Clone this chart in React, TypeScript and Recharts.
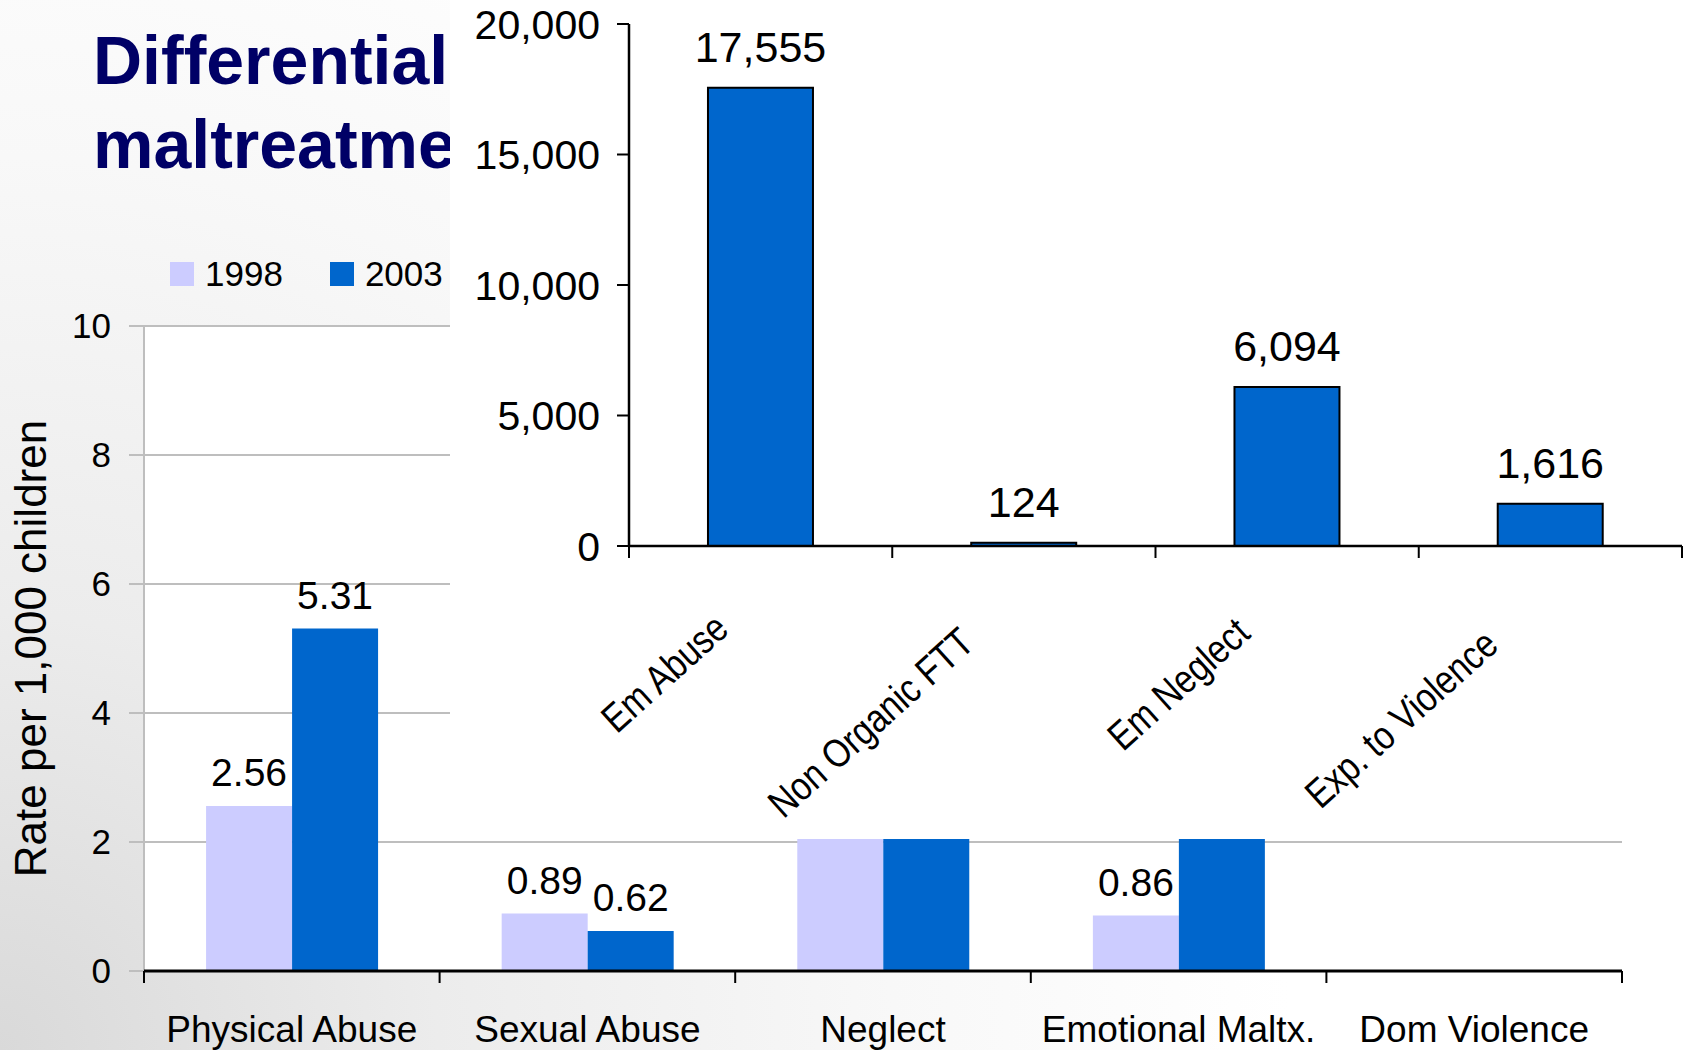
import React from 'react';
import { BarChart, Bar, XAxis, YAxis, CartesianGrid, LabelList } from 'recharts';

const FONT = '"Liberation Sans", Arial, Helvetica, sans-serif';

// background chart: rate per 1,000 children
const categories = ['Physical Abuse', 'Sexual Abuse', 'Neglect', 'Emotional Maltx.', 'Dom Violence'];
const rates1998 = [2.56, 0.89, 3.79, 0.86, null];
const rates2003 = [5.31, 0.62, 6.38, 3.23, null];
const rateTicks = [0, 2, 4, 6, 8, 10];
const seriesNames = ['1998', '2003'];
const seriesColors = ['#CCCCFF', '#0066CC'];

// inset chart: counts
const insetCategories = ['Em Abuse', 'Non Organic FTT', 'Em Neglect', 'Exp. to Violence'];
const insetCounts = [17555, 124, 6094, 1616];
const insetTicks = [0, 5000, 10000, 15000, 20000];

const titleLines = ['Differential', 'maltreatment'];

const mainData = categories.map((name, i) => ({ name, y1998: rates1998[i], y2003: rates2003[i] }));
const insetData = insetCategories.map((name, i) => ({ name, count: insetCounts[i] }));

const fmt = (v: any) => Number(v).toLocaleString('en-US');

// tick marks sit on the category boundaries, not the centres
const EdgeMarks = ({ x, y, width, visibleTicksCount, index }: any) => {
    const half = (width || 0) / (visibleTicksCount || 1) / 2;
    return (
        <>
            <line x1={x - half} x2={x - half} y1={y} y2={y + 12} stroke="#000" strokeWidth={2} />
            {index === visibleTicksCount - 1 && (
                <line x1={x + half} x2={x + half} y1={y} y2={y + 12} stroke="#000" strokeWidth={2} />
            )}
        </>
    );
};

const CategoryTick = (props: any) => {
    const { x, y, payload } = props;
    return (
        <g>
            <EdgeMarks {...props} />
            <text x={x} y={y + 71} textAnchor="middle" fontSize={37} fontFamily={FONT} fill="#000">
                {payload.value}
            </text>
        </g>
    );
};

// rotated, slightly condensed labels like the pasted chart
const SlantTick = (props: any) => {
    const { x, y, payload } = props;
    const len = String(payload.value).length;
    const ax = x - 10 - 2.5 * len;
    const ay = y + 70 + 2 * len;
    return (
        <g>
            <EdgeMarks {...props} />
            <text
                transform={`translate(${ax},${ay}) rotate(-42) scale(0.84,1)`}
                textAnchor="end"
                fontSize={40}
                fontFamily={FONT}
                fill="#000"
            >
                {payload.value}
            </text>
        </g>
    );
};

export default function App() {
    return (
        <div
            style={{
                position: 'absolute',
                left: 0,
                top: 0,
                width: 1685,
                height: 1050,
                overflow: 'hidden',
                background: 'radial-gradient(circle at 0% 100%, #d9d9d9 0%, #ececec 22%, #f8f8f8 45%, #ffffff 65%)',
                fontFamily: FONT,
            }}
        >
            <div style={{ position: 'absolute', left: 0, top: 0 }}>
                <BarChart
                    width={1685}
                    height={1050}
                    data={mainData}
                    margin={{ top: 326, right: 63, bottom: 0, left: 0 }}
                    barCategoryGap="21%"
                    barGap={0}
                >
                    <CartesianGrid xAxisId="cat" vertical={false} stroke="#BEBEBE" strokeWidth={2} fill="#FFFFFF" fillOpacity={1} />
                    <YAxis
                        type="number"
                        domain={[0, 10]}
                        ticks={rateTicks}
                        width={144}
                        tickSize={15}
                        tickMargin={18}
                        axisLine={{ stroke: '#BEBEBE', strokeWidth: 2 }}
                        tickLine={{ stroke: '#BEBEBE', strokeWidth: 2 }}
                        tick={{ fontSize: 35, fill: '#000', fontFamily: FONT }}
                        label={{
                            value: 'Rate per 1,000 children',
                            angle: -90,
                            position: 'insideLeft',
                            offset: 30,
                            style: { textAnchor: 'middle', fontSize: 44, fill: '#000', fontFamily: FONT },
                        }}
                    />
                    <Bar xAxisId="cat" dataKey="y1998" name={seriesNames[0]} fill={seriesColors[0]} isAnimationActive={false}>
                        <LabelList dataKey="y1998" position="top" offset={20} fill="#000" fontSize={39} fontFamily={FONT} />
                    </Bar>
                    <Bar xAxisId="cat" dataKey="y2003" name={seriesNames[1]} fill={seriesColors[1]} isAnimationActive={false}>
                        <LabelList dataKey="y2003" position="top" offset={20} fill="#000" fontSize={39} fontFamily={FONT} />
                    </Bar>
                    <XAxis
                        xAxisId="cat"
                        dataKey="name"
                        height={79}
                        axisLine={{ stroke: '#000', strokeWidth: 3 }}
                        tickLine={false}
                        tickSize={0}
                        tickMargin={0}
                        interval={0}
                        tick={<CategoryTick />}
                    />
                </BarChart>
            </div>

            <div
                style={{
                    position: 'absolute',
                    left: 93,
                    top: 18,
                    width: 357,
                    overflow: 'hidden',
                    whiteSpace: 'nowrap',
                    fontWeight: 'bold',
                    fontSize: 68,
                    lineHeight: '84px',
                    color: '#000066',
                }}
            >
                {titleLines.map(l => (
                    <div key={l}>{l}</div>
                ))}
            </div>

            <div style={{ position: 'absolute', left: 170, top: 256, display: 'flex', alignItems: 'center', height: 36 }}>
                {seriesNames.map((s, i) => (
                    <div key={s} style={{ display: 'flex', alignItems: 'center', marginRight: 47 }}>
                        <div style={{ width: 24, height: 24, background: seriesColors[i], marginRight: 11 }} />
                        <span style={{ fontSize: 35, color: '#000', lineHeight: '36px' }}>{s}</span>
                    </div>
                ))}
            </div>

            <div style={{ position: 'absolute', left: 450, top: 0, width: 1235, height: 839, background: '#FFFFFF', zIndex: 2 }}>
                <BarChart
                    width={1235}
                    height={839}
                    data={insetData}
                    margin={{ top: 24, right: 3, bottom: 0, left: 0 }}
                    barCategoryGap="30%"
                >
                    <YAxis
                        type="number"
                        domain={[0, 20000]}
                        ticks={insetTicks}
                        width={179}
                        tickSize={12}
                        tickMargin={17}
                        tickFormatter={fmt}
                        axisLine={{ stroke: '#000', strokeWidth: 2.5 }}
                        tickLine={{ stroke: '#000', strokeWidth: 2 }}
                        tick={{ fontSize: 41, fill: '#000', fontFamily: FONT }}
                    />
                    <Bar xAxisId="cat" dataKey="count" fill="#0066CC" stroke="#000" strokeWidth={2} isAnimationActive={false}>
                        <LabelList dataKey="count" position="top" offset={26} formatter={fmt} fill="#000" fontSize={43} fontFamily={FONT} />
                    </Bar>
                    <XAxis
                        xAxisId="cat"
                        dataKey="name"
                        height={293}
                        axisLine={{ stroke: '#000', strokeWidth: 2.5 }}
                        tickLine={false}
                        tickSize={0}
                        tickMargin={0}
                        interval={0}
                        tick={<SlantTick />}
                    />
                </BarChart>
            </div>
        </div>
    );
}
